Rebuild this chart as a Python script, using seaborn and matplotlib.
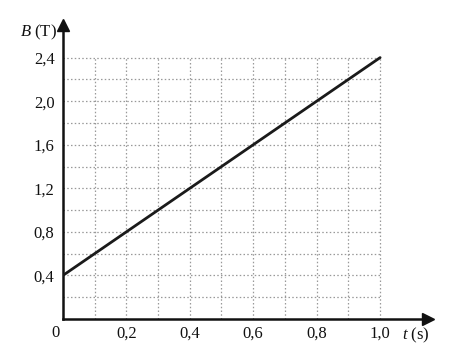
import matplotlib
matplotlib.use("Agg")
import matplotlib.pyplot as plt
import seaborn as sns
import pandas as pd

# Data
t_values = [0.0, 1.0]
B_values = [0.4, 2.4]
x_tick_labels = ["0,2", "0,4", "0,6", "0,8", "1,0"]
x_label_pos = [0.2, 0.4, 0.6, 0.8, 1.0]
y_tick_labels = ["0,4", "0,8", "1,2", "1,6", "2,0", "2,4"]
y_label_pos = [0.4, 0.8, 1.2, 1.6, 2.0, 2.4]
x_grid = [0.1, 0.2, 0.3, 0.4, 0.5, 0.6, 0.7, 0.8, 0.9, 1.0]
y_grid = [0.2, 0.4, 0.6, 0.8, 1.0, 1.2, 1.4, 1.6, 1.8, 2.0, 2.2, 2.4]

sns.set_style("white")
plt.rcParams["font.family"] = ["Liberation Serif", "DejaVu Serif"]
plt.rcParams["mathtext.fontset"] = "custom"
plt.rcParams["mathtext.it"] = "Liberation Serif:italic"
plt.rcParams["mathtext.rm"] = "Liberation Serif"

fig = plt.figure(figsize=(4.69, 3.51), dpi=100)
ax = fig.add_axes([0.134, 0.091, 0.778, 0.838])

xmax, ymax = 1.15, 2.7
ax.set_xlim(0, xmax)
ax.set_ylim(0, ymax)

# dotted grid limited to the plotted area
ax.vlines(x_grid, 0, 2.4, colors="#999999", linestyles=(0, (1.2, 1.8)), linewidth=0.9, zorder=1)
ax.hlines(y_grid, 0, 1.0, colors="#999999", linestyles=(0, (1.2, 1.8)), linewidth=0.9, zorder=1)

df = pd.DataFrame({"t": t_values, "B": B_values})
sns.lineplot(data=df, x="t", y="B", ax=ax, color="#1a1a1a", linewidth=2.0, zorder=3)

for s in ["top", "right"]:
    ax.spines[s].set_visible(False)
for s in ["left", "bottom"]:
    ax.spines[s].set_linewidth(1.8)
    ax.spines[s].set_color("#111111")

# arrows
ax.plot(1, 0, ">", color="#111111", markersize=8, transform=ax.transAxes, clip_on=False)
ax.plot(0, 1, "^", color="#111111", markersize=8, transform=ax.transAxes, clip_on=False)

ax.set_xticks(x_grid)
ax.set_xticklabels([x_tick_labels[x_label_pos.index(round(v, 1))] if round(v, 1) in x_label_pos else "" for v in x_grid])
ax.set_yticks(y_grid)
ax.set_yticklabels([y_tick_labels[y_label_pos.index(round(v, 1))] if round(v, 1) in y_label_pos else "" for v in y_grid])
ax.tick_params(axis="both", direction="inout", length=8, width=1.3, colors="#111111",
               labelsize=12, pad=2)
ax.tick_params(axis="x", pad=1)
ax.set_xlabel("")
ax.set_ylabel("")

ax.text(-0.01, -0.05, "0", transform=ax.get_yaxis_transform(), ha="right", va="top",
        fontsize=12, color="#111111")
ax.text(-0.015, 0.975, "$\\mathit{B}$ (T)", transform=ax.transAxes, ha="right", va="center",
        fontsize=12, color="#111111")
ax.text(1.07, -0.055, "$\\mathit{t}$ (s)", transform=ax.get_xaxis_transform(), ha="left", va="center",
        fontsize=12, color="#111111")

fig.savefig("out.png", dpi=100, facecolor="white")
